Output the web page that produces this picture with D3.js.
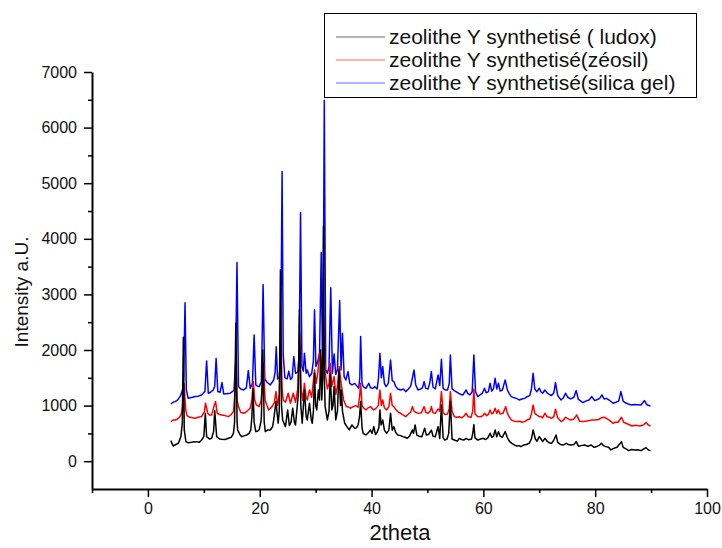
<!DOCTYPE html>
<html lang="fr">
	<head>
		<meta charset="utf-8">
		<title>Zeolithe Y synthetisé - DRX</title>
		<script src="https://d3js.org/d3.v7.min.js" charset="utf-8"></script>
		<style type="text/css">
		body { margin: 0; background: #fff; }
		svg text { font-family: Arial, "Liberation Sans", sans-serif; fill: #111; }
		.axis path, .axis line { stroke: #000; }
		</style>
		<link rel="icon" href="data:;base64,=">
	</head>
	<body>
	<script type="text/javascript">

	// series: [2theta, intensity]
	const ludox = [[4.1,370],[4.5,274],[5.0,300],[5.45,322],[5.9,442],[6.15,682],[6.34,2230],[6.5,562],[6.8,352],[7.2,330],[7.5,334],[8.0,345],[8.7,352],[9.2,340],[9.6,382],[10.0,442],[10.27,862],[10.5,442],[11.0,400],[11.4,412],[11.75,532],[11.95,910],[12.3,442],[12.8,400],[13.2,394],[13.8,390],[14.4,412],[14.9,430],[15.3,502],[15.5,700],[15.72,2482],[15.95,700],[16.05,562],[16.5,470],[16.8,442],[17.3,460],[17.7,472],[18.1,500],[18.4,562],[18.6,800],[18.8,1300],[19.0,700],[19.3,532],[19.6,540],[19.9,562],[20.2,700],[20.3,802],[20.55,2002],[20.8,700],[21.0,532],[21.4,560],[21.9,562],[22.3,620],[22.5,742],[22.9,1072],[23.3,682],[23.5,900],[23.7,3442],[23.9,1000],[24.1,742],[24.6,622],[25.0,922],[25.3,640],[25.6,700],[25.9,952],[26.2,700],[26.4,652],[26.7,982],[26.9,1200],[27.1,2722],[27.35,1000],[27.6,682],[28.0,1282],[28.3,800],[28.5,742],[28.9,1042],[29.2,760],[29.4,682],[29.6,900],[29.8,1582],[30.0,1000],[30.2,922],[30.5,1282],[30.7,1100],[30.9,2002],[31.1,1102],[31.25,1500],[31.4,4222],[31.55,1500],[31.7,982],[32.1,742],[32.4,900],[32.6,1582],[32.9,922],[33.1,1000],[33.3,1342],[33.6,742],[33.9,900],[34.2,1642],[34.45,1000],[34.6,1282],[34.8,900],[35.2,682],[35.6,622],[36.0,562],[36.5,652],[37.0,590],[37.3,600],[37.6,652],[37.85,800],[38.05,1072],[38.3,600],[38.5,502],[39.0,472],[39.5,520],[39.8,562],[40.1,500],[40.4,622],[40.7,480],[41.0,520],[41.3,600],[41.5,922],[41.7,650],[42.0,742],[42.3,560],[42.7,500],[43.1,560],[43.4,862],[43.7,560],[44.0,622],[44.3,520],[44.7,472],[45.2,460],[45.6,442],[46.0,430],[46.4,412],[46.8,450],[47.3,562],[47.5,500],[47.8,652],[48.1,470],[48.5,450],[49.0,440],[49.5,592],[49.8,470],[50.2,480],[50.7,560],[51.0,450],[51.4,440],[51.9,622],[52.2,410],[52.5,1012],[52.8,420],[53.1,382],[53.5,400],[53.8,500],[54.1,1072],[54.4,400],[54.8,382],[55.3,360],[55.7,410],[56.1,390],[56.5,380],[56.9,412],[57.4,385],[57.9,400],[58.1,500],[58.3,660],[58.5,420],[59.0,380],[59.5,400],[60.0,412],[60.4,390],[60.8,420],[61.2,502],[61.5,430],[61.8,450],[62.1,562],[62.4,440],[62.7,532],[63.0,450],[63.4,430],[63.9,532],[64.3,420],[64.7,350],[65.1,322],[65.6,290],[66.0,274],[66.4,280],[66.7,262],[67.2,290],[67.7,300],[68.2,322],[68.6,400],[68.9,562],[69.3,400],[69.6,360],[70.0,442],[70.3,400],[70.6,352],[71.0,412],[71.4,360],[71.8,330],[72.2,320],[72.6,380],[73.0,472],[73.3,340],[73.8,300],[74.3,290],[74.8,322],[75.2,300],[75.7,290],[76.2,300],[76.6,352],[77.0,270],[77.5,280],[78.1,292],[78.7,270],[79.3,292],[79.8,250],[80.4,270],[80.8,290],[81.1,322],[81.5,280],[81.9,262],[82.4,250],[82.8,202],[83.3,230],[83.9,250],[84.3,300],[84.7,352],[85.0,250],[85.5,220],[86.0,190],[86.5,210],[87.1,200],[87.6,205],[88.2,190],[88.7,220],[89.1,244],[89.5,200],[89.9,190]];

	const zeosil = [[4.1,712],[4.5,740],[4.9,742],[5.3,760],[5.74,802],[6.0,860],[6.16,952],[6.46,1402],[6.76,922],[7.0,820],[7.5,790],[8.0,780],[8.4,772],[9.0,790],[9.6,802],[10.1,892],[10.3,1042],[10.7,862],[11.0,830],[11.4,832],[11.8,982],[12.1,1072],[12.4,862],[12.8,840],[13.2,832],[13.8,820],[14.4,802],[14.9,840],[15.3,892],[15.55,1200],[15.75,1882],[15.95,1100],[16.2,982],[16.6,880],[17.1,862],[17.5,880],[17.96,922],[18.3,952],[18.6,1100],[18.85,1432],[19.1,1100],[19.4,1012],[19.9,982],[20.2,1072],[20.45,1300],[20.7,1762],[20.95,1100],[21.3,1000],[21.6,922],[22.2,982],[22.6,1050],[22.9,1252],[23.2,1000],[23.5,1200],[23.75,2500],[24.0,1300],[24.2,1102],[24.6,1060],[25.1,1222],[25.5,1040],[26.0,1222],[26.4,1060],[26.8,1300],[27.15,2302],[27.4,1300],[27.7,1090],[28.0,1402],[28.3,1150],[28.5,1100],[28.9,1282],[29.3,1150],[29.8,1642],[30.1,1400],[30.4,1600],[30.7,1942],[31.0,1700],[31.2,1900],[31.4,2600],[31.6,1800],[31.8,1522],[32.1,1300],[32.4,1400],[32.6,1762],[32.9,1350],[33.3,1522],[33.6,1200],[33.9,1350],[34.2,1702],[34.5,1450],[34.7,1300],[35.0,1102],[35.5,982],[36.0,970],[36.2,952],[36.7,980],[37.2,1000],[37.6,970],[37.85,1150],[38.05,1402],[38.3,1000],[38.6,952],[39.0,922],[39.4,960],[39.8,982],[40.1,950],[40.4,922],[40.8,950],[41.2,1000],[41.5,1282],[41.75,1000],[42.0,1102],[42.3,960],[42.7,922],[43.1,980],[43.4,1222],[43.7,1000],[44.0,982],[44.4,920],[44.8,880],[45.2,862],[45.7,830],[46.1,802],[46.6,850],[47.0,880],[47.3,982],[47.6,900],[47.9,880],[48.4,860],[48.9,870],[49.4,982],[49.7,880],[50.1,862],[50.5,900],[50.7,982],[51.0,870],[51.4,860],[51.9,940],[52.2,900],[52.5,1252],[52.8,880],[53.1,842],[53.6,850],[53.9,950],[54.1,1252],[54.4,900],[54.8,802],[55.2,790],[55.7,800],[56.1,780],[56.5,805],[56.9,862],[57.3,800],[57.8,790],[58.1,900],[58.3,1300],[58.5,850],[59.0,802],[59.5,800],[59.9,820],[60.2,862],[60.6,820],[60.9,840],[61.2,922],[61.5,850],[61.8,870],[62.1,952],[62.4,860],[62.7,922],[63.0,850],[63.5,860],[64.0,982],[64.3,860],[64.6,800],[65.0,742],[65.5,720],[66.0,712],[66.5,720],[66.9,700],[67.4,712],[67.8,740],[68.3,760],[68.6,850],[68.9,1012],[69.2,860],[69.6,830],[70.0,800],[70.3,802],[70.6,780],[71.0,862],[71.4,800],[71.8,790],[72.2,770],[72.6,800],[72.9,934],[73.3,780],[73.9,712],[74.3,740],[74.7,790],[75.2,760],[75.6,740],[76.2,760],[76.7,832],[77.2,720],[77.8,712],[78.3,720],[78.9,730],[79.4,740],[80.0,740],[80.6,750],[81.1,780],[81.6,790],[82.0,770],[82.5,740],[83.2,682],[83.6,700],[84.1,700],[84.7,790],[85.1,700],[85.5,682],[86.0,660],[86.6,634],[87.1,645],[87.5,640],[88.0,634],[88.6,650],[89.1,694],[89.5,650],[89.9,634]];

	const silicaGel = [[4.1,1030],[4.5,1060],[4.85,1072],[5.3,1100],[5.74,1162],[6.0,1220],[6.2,1290],[6.4,1522],[6.64,2850],[6.87,1282],[7.2,1132],[7.6,1140],[8.0,1150],[8.4,1162],[9.0,1170],[9.6,1192],[10.2,1252],[10.5,1804],[10.8,1222],[11.2,1240],[11.7,1282],[11.95,1350],[12.2,1846],[12.5,1252],[12.9,1240],[13.25,1414],[13.55,1210],[14.0,1215],[14.7,1222],[15.1,1250],[15.4,1282],[15.7,1800],[15.93,3574],[16.2,1342],[16.6,1300],[17.1,1282],[17.6,1320],[17.96,1630],[18.3,1312],[18.7,1402],[19.0,2272],[19.3,1372],[19.6,1350],[19.9,1342],[20.3,1432],[20.6,3180],[20.9,1480],[21.3,1420],[21.9,1372],[22.5,1460],[22.75,1600],[22.95,2060],[23.2,1480],[23.5,1500],[23.75,1900],[24.0,5212],[24.2,1912],[24.5,1500],[24.9,1480],[25.2,1620],[25.5,1470],[25.8,1500],[26.1,1882],[26.4,1582],[26.8,1600],[27.05,1900],[27.3,4474],[27.55,1700],[27.8,1620],[28.0,1942],[28.3,1582],[28.5,1640],[28.9,1520],[29.3,1582],[29.6,1800],[29.8,2722],[30.05,1702],[30.4,1800],[30.7,1948],[31.0,3754],[31.2,2002],[31.35,2500],[31.55,6490],[31.8,1642],[32.1,1582],[32.4,1700],[32.7,3118],[33.0,1582],[33.3,1930],[33.6,1560],[33.9,1650],[34.3,2890],[34.55,1640],[34.8,2302],[35.1,1520],[35.4,1460],[35.8,1612],[36.1,1400],[36.5,1372],[37.0,1400],[37.4,1350],[37.7,1312],[37.9,1500],[38.05,2242],[38.3,1400],[38.5,1342],[39.0,1310],[39.5,1402],[39.8,1320],[40.2,1310],[40.6,1340],[41.0,1300],[41.25,1500],[41.5,1942],[41.75,1500],[42.0,1702],[42.3,1400],[42.6,1342],[43.0,1400],[43.4,1822],[43.7,1450],[44.0,1432],[44.3,1350],[44.7,1300],[45.2,1282],[45.7,1300],[46.1,1252],[46.6,1300],[47.0,1350],[47.3,1492],[47.6,1642],[47.9,1370],[48.3,1282],[48.8,1300],[49.1,1320],[49.4,1432],[49.7,1310],[50.1,1300],[50.4,1400],[50.7,1612],[51.0,1330],[51.4,1300],[51.9,1552],[52.2,1360],[52.5,1834],[52.8,1310],[53.2,1280],[53.6,1282],[53.9,1400],[54.1,1912],[54.4,1300],[54.8,1270],[55.1,1252],[55.6,1220],[56.0,1200],[56.3,1192],[56.6,1230],[56.9,1282],[57.2,1220],[57.6,1192],[58.0,1250],[58.3,1912],[58.6,1250],[59.0,1162],[59.5,1200],[59.8,1220],[60.2,1312],[60.5,1230],[60.9,1250],[61.2,1402],[61.5,1260],[61.8,1300],[62.1,1492],[62.4,1300],[62.7,1402],[63.0,1262],[63.4,1280],[63.9,1462],[64.3,1280],[64.6,1220],[65.0,1162],[65.5,1140],[65.9,1130],[66.4,1102],[66.9,1120],[67.4,1130],[67.8,1160],[68.3,1180],[68.6,1300],[68.9,1582],[69.2,1300],[69.6,1250],[70.0,1312],[70.3,1250],[70.6,1222],[71.0,1280],[71.4,1230],[71.8,1200],[72.2,1180],[72.6,1230],[72.9,1414],[73.3,1180],[73.9,1102],[74.3,1140],[74.7,1222],[75.1,1150],[75.6,1120],[76.2,1150],[76.6,1270],[77.0,1110],[77.8,1054],[78.3,1080],[78.9,1100],[79.4,1162],[79.9,1090],[80.4,1110],[80.8,1130],[81.2,1192],[81.6,1120],[82.0,1130],[82.5,1100],[83.2,1042],[83.7,1060],[84.2,1080],[84.6,1252],[85.0,1080],[85.4,1050],[85.9,1030],[86.5,1010],[87.0,1020],[87.6,1015],[88.2,1010],[88.8,1090],[89.2,1020],[89.6,1000],[89.9,994]];

	const seriesNames = ["zeolithe Y synthetisé ( ludox)", "zeolithe Y synthetisé(zéosil)", "zeolithe Y synthetisé(silica gel)"];
	const seriesColors = ["#000000", "#ff0000", "#0000ff"];
	const xMajorTicks = [0, 20, 40, 60, 80, 100];
	const xMinorTicks = [-10, 10, 30, 50, 70, 90];
	const yMajorTicks = [0, 1000, 2000, 3000, 4000, 5000, 6000, 7000];
	const yMinorTicks = [500, 1500, 2500, 3500, 4500, 5500, 6500];

	//Width and height
	const w = 722;
	const h = 548;

	const x = d3.scaleLinear().domain([-10, 100]).range([92, 707]);
	const y = d3.scaleLinear().domain([-500, 7000]).range([489, 72]);

	const svg = d3.select("body")
		.append("svg")
		.attr("width", w)
		.attr("height", h);

	// curves (blue at back, black on top as in the original)
	const line = d3.line()
		.x(function(d) { return x(d[0]); })
		.y(function(d) { return y(d[1]); });

	const allSeries = [ludox, zeosil, silicaGel];
	[2, 1, 0].forEach(function(i) {
		svg.append("path")
			.datum(allSeries[i])
			.attr("d", line)
			.attr("fill", "none")
			.attr("stroke", seriesColors[i])
			.attr("stroke-width", 1.5)
			.attr("stroke-linejoin", "round");
	});

	// axes
	svg.append("g")
		.attr("class", "axis")
		.attr("transform", "translate(0," + y(-500) + ")")
		.call(d3.axisBottom(x).tickValues(xMajorTicks).tickSize(8).tickSizeOuter(0).tickPadding(6).tickFormat(d3.format("d")));
	svg.append("g")
		.attr("class", "axis")
		.attr("transform", "translate(0," + y(-500) + ")")
		.call(d3.axisBottom(x).tickValues(xMinorTicks).tickSize(4).tickFormat(""))
		.select(".domain").remove();

	svg.append("g")
		.attr("class", "axis")
		.attr("transform", "translate(" + x(-10) + ",0)")
		.call(d3.axisLeft(y).tickValues(yMajorTicks).tickSize(8).tickSizeOuter(0).tickPadding(7).tickFormat(d3.format("d")));
	svg.append("g")
		.attr("class", "axis")
		.attr("transform", "translate(" + x(-10) + ",0)")
		.call(d3.axisLeft(y).tickValues(yMinorTicks).tickSize(4).tickFormat(""))
		.select(".domain").remove();

	svg.selectAll(".axis .domain").attr("stroke-width", 2);
	svg.selectAll(".axis line").attr("stroke-width", 1.5);
	svg.selectAll(".axis text")
		.style("font-size", "16px")
		.attr("fill", "#111");

	// axis titles
	svg.append("text")
		.attr("x", 400)
		.attr("y", 540)
		.attr("text-anchor", "middle")
		.style("font-size", "22px")
		.text("2theta");

	svg.append("text")
		.attr("transform", "translate(28,292) rotate(-90)")
		.attr("text-anchor", "middle")
		.style("font-size", "19px")
		.text("Intensity a.U.");

	// legend
	const legend = svg.append("g");
	legend.append("rect")
		.attr("x", 324.5)
		.attr("y", 13.5)
		.attr("width", 372)
		.attr("height", 84)
		.attr("fill", "#fff")
		.attr("stroke", "#000")
		.attr("stroke-width", 1);

	seriesNames.forEach(function(name, i) {
		const ly = 37 + i * 23;
		legend.append("line")
			.attr("x1", 336).attr("x2", 385)
			.attr("y1", ly).attr("y2", ly)
			.attr("stroke", seriesColors[i])
			.attr("stroke-opacity", 0.6)
			.attr("stroke-width", 1.2);
		legend.append("text")
			.attr("x", 389)
			.attr("y", ly + 7)
			.style("font-size", "21px")
			.text(name);
	});

	</script>
	</body>
</html>
